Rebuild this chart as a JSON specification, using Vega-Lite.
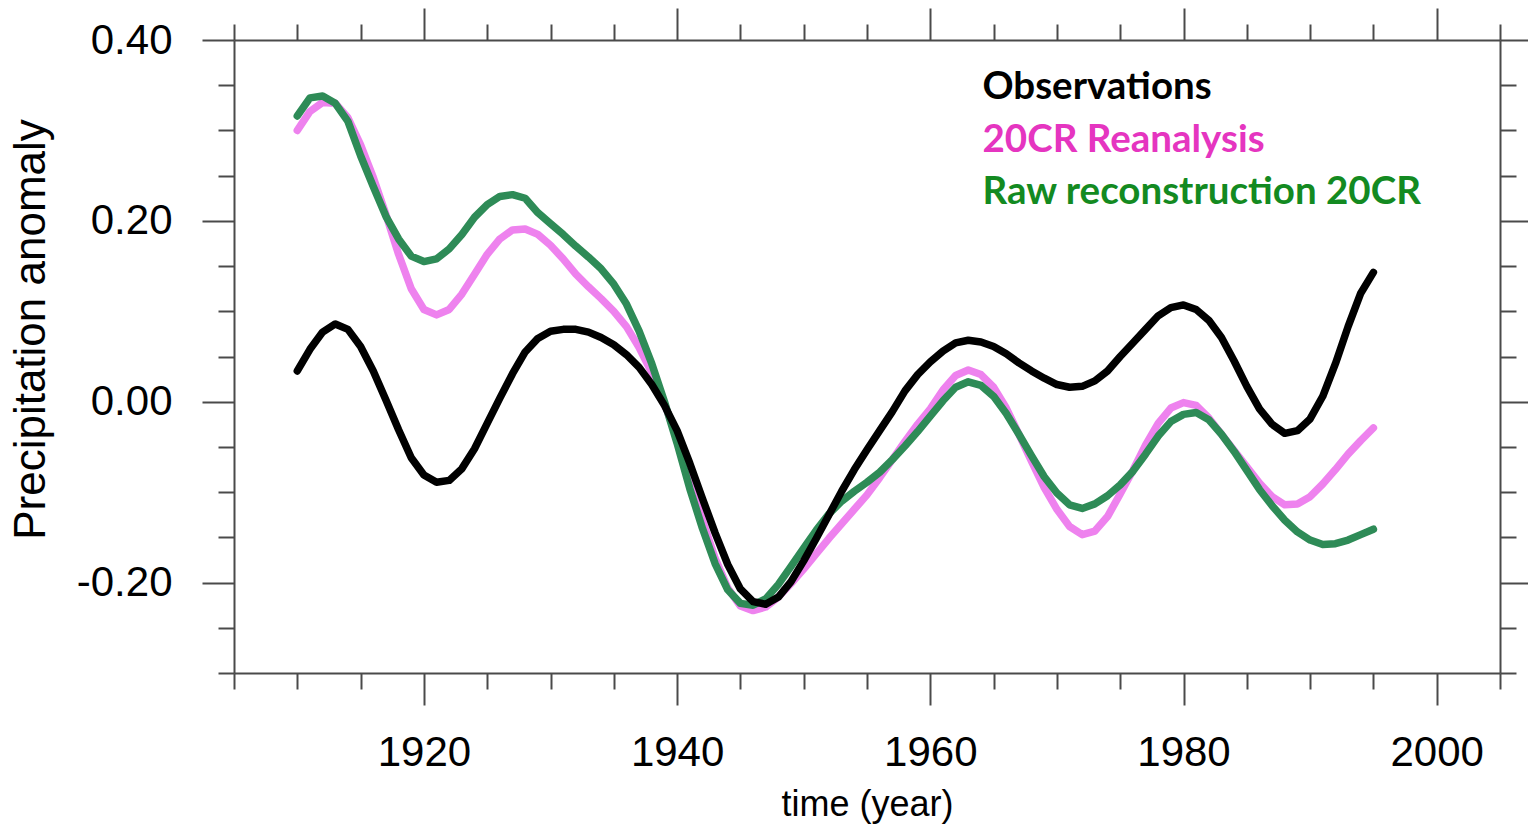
{
  "$schema": "https://vega.github.io/schema/vega-lite/v6.json",
  "width": 1266,
  "height": 633,
  "autosize": {"type": "none"},
  "padding": {"left": 234, "top": 40, "right": 28, "bottom": 155},
  "background": "white",
  "config": {
    "view": {"stroke": null},
    "axis": {
      "domainColor": "#4a4a4a",
      "domainWidth": 2,
      "tickColor": "#4a4a4a",
      "tickWidth": 2,
      "grid": false,
      "labelFont": "Liberation Sans",
      "titleFont": "Liberation Sans",
      "labelColor": "#000000",
      "titleColor": "#000000",
      "titleFontWeight": "normal"
    }
  },
  "data": {
    "values": [
      {"series": "20CR Reanalysis", "year": 1910, "value": 0.300},
      {"series": "20CR Reanalysis", "year": 1911, "value": 0.321},
      {"series": "20CR Reanalysis", "year": 1912, "value": 0.331},
      {"series": "20CR Reanalysis", "year": 1913, "value": 0.330},
      {"series": "20CR Reanalysis", "year": 1914, "value": 0.314},
      {"series": "20CR Reanalysis", "year": 1915, "value": 0.284},
      {"series": "20CR Reanalysis", "year": 1916, "value": 0.248},
      {"series": "20CR Reanalysis", "year": 1917, "value": 0.207},
      {"series": "20CR Reanalysis", "year": 1918, "value": 0.163},
      {"series": "20CR Reanalysis", "year": 1919, "value": 0.125},
      {"series": "20CR Reanalysis", "year": 1920, "value": 0.102},
      {"series": "20CR Reanalysis", "year": 1921, "value": 0.096},
      {"series": "20CR Reanalysis", "year": 1922, "value": 0.102},
      {"series": "20CR Reanalysis", "year": 1923, "value": 0.119},
      {"series": "20CR Reanalysis", "year": 1924, "value": 0.141},
      {"series": "20CR Reanalysis", "year": 1925, "value": 0.163},
      {"series": "20CR Reanalysis", "year": 1926, "value": 0.180},
      {"series": "20CR Reanalysis", "year": 1927, "value": 0.190},
      {"series": "20CR Reanalysis", "year": 1928, "value": 0.191},
      {"series": "20CR Reanalysis", "year": 1929, "value": 0.185},
      {"series": "20CR Reanalysis", "year": 1930, "value": 0.173},
      {"series": "20CR Reanalysis", "year": 1931, "value": 0.158},
      {"series": "20CR Reanalysis", "year": 1932, "value": 0.141},
      {"series": "20CR Reanalysis", "year": 1933, "value": 0.127},
      {"series": "20CR Reanalysis", "year": 1934, "value": 0.114},
      {"series": "20CR Reanalysis", "year": 1935, "value": 0.100},
      {"series": "20CR Reanalysis", "year": 1936, "value": 0.083},
      {"series": "20CR Reanalysis", "year": 1937, "value": 0.060},
      {"series": "20CR Reanalysis", "year": 1938, "value": 0.032},
      {"series": "20CR Reanalysis", "year": 1939, "value": -0.002},
      {"series": "20CR Reanalysis", "year": 1940, "value": -0.041},
      {"series": "20CR Reanalysis", "year": 1941, "value": -0.085},
      {"series": "20CR Reanalysis", "year": 1942, "value": -0.131},
      {"series": "20CR Reanalysis", "year": 1943, "value": -0.173},
      {"series": "20CR Reanalysis", "year": 1944, "value": -0.206},
      {"series": "20CR Reanalysis", "year": 1945, "value": -0.226},
      {"series": "20CR Reanalysis", "year": 1946, "value": -0.231},
      {"series": "20CR Reanalysis", "year": 1947, "value": -0.227},
      {"series": "20CR Reanalysis", "year": 1948, "value": -0.216},
      {"series": "20CR Reanalysis", "year": 1949, "value": -0.201},
      {"series": "20CR Reanalysis", "year": 1950, "value": -0.185},
      {"series": "20CR Reanalysis", "year": 1951, "value": -0.168},
      {"series": "20CR Reanalysis", "year": 1952, "value": -0.151},
      {"series": "20CR Reanalysis", "year": 1953, "value": -0.135},
      {"series": "20CR Reanalysis", "year": 1954, "value": -0.119},
      {"series": "20CR Reanalysis", "year": 1955, "value": -0.103},
      {"series": "20CR Reanalysis", "year": 1956, "value": -0.084},
      {"series": "20CR Reanalysis", "year": 1957, "value": -0.064},
      {"series": "20CR Reanalysis", "year": 1958, "value": -0.044},
      {"series": "20CR Reanalysis", "year": 1959, "value": -0.025},
      {"series": "20CR Reanalysis", "year": 1960, "value": -0.008},
      {"series": "20CR Reanalysis", "year": 1961, "value": 0.013},
      {"series": "20CR Reanalysis", "year": 1962, "value": 0.029},
      {"series": "20CR Reanalysis", "year": 1963, "value": 0.035},
      {"series": "20CR Reanalysis", "year": 1964, "value": 0.030},
      {"series": "20CR Reanalysis", "year": 1965, "value": 0.016},
      {"series": "20CR Reanalysis", "year": 1966, "value": -0.007},
      {"series": "20CR Reanalysis", "year": 1967, "value": -0.036},
      {"series": "20CR Reanalysis", "year": 1968, "value": -0.066},
      {"series": "20CR Reanalysis", "year": 1969, "value": -0.095},
      {"series": "20CR Reanalysis", "year": 1970, "value": -0.119},
      {"series": "20CR Reanalysis", "year": 1971, "value": -0.138},
      {"series": "20CR Reanalysis", "year": 1972, "value": -0.147},
      {"series": "20CR Reanalysis", "year": 1973, "value": -0.143},
      {"series": "20CR Reanalysis", "year": 1974, "value": -0.127},
      {"series": "20CR Reanalysis", "year": 1975, "value": -0.102},
      {"series": "20CR Reanalysis", "year": 1976, "value": -0.076},
      {"series": "20CR Reanalysis", "year": 1977, "value": -0.048},
      {"series": "20CR Reanalysis", "year": 1978, "value": -0.024},
      {"series": "20CR Reanalysis", "year": 1979, "value": -0.007},
      {"series": "20CR Reanalysis", "year": 1980, "value": -0.001},
      {"series": "20CR Reanalysis", "year": 1981, "value": -0.004},
      {"series": "20CR Reanalysis", "year": 1982, "value": -0.018},
      {"series": "20CR Reanalysis", "year": 1983, "value": -0.036},
      {"series": "20CR Reanalysis", "year": 1984, "value": -0.054},
      {"series": "20CR Reanalysis", "year": 1985, "value": -0.072},
      {"series": "20CR Reanalysis", "year": 1986, "value": -0.090},
      {"series": "20CR Reanalysis", "year": 1987, "value": -0.105},
      {"series": "20CR Reanalysis", "year": 1988, "value": -0.114},
      {"series": "20CR Reanalysis", "year": 1989, "value": -0.113},
      {"series": "20CR Reanalysis", "year": 1990, "value": -0.105},
      {"series": "20CR Reanalysis", "year": 1991, "value": -0.091},
      {"series": "20CR Reanalysis", "year": 1992, "value": -0.075},
      {"series": "20CR Reanalysis", "year": 1993, "value": -0.058},
      {"series": "20CR Reanalysis", "year": 1994, "value": -0.043},
      {"series": "20CR Reanalysis", "year": 1995, "value": -0.029},

      {"series": "Raw reconstruction 20CR", "year": 1910, "value": 0.316},
      {"series": "Raw reconstruction 20CR", "year": 1911, "value": 0.336},
      {"series": "Raw reconstruction 20CR", "year": 1912, "value": 0.338},
      {"series": "Raw reconstruction 20CR", "year": 1913, "value": 0.330},
      {"series": "Raw reconstruction 20CR", "year": 1914, "value": 0.310},
      {"series": "Raw reconstruction 20CR", "year": 1915, "value": 0.272},
      {"series": "Raw reconstruction 20CR", "year": 1916, "value": 0.238},
      {"series": "Raw reconstruction 20CR", "year": 1917, "value": 0.205},
      {"series": "Raw reconstruction 20CR", "year": 1918, "value": 0.180},
      {"series": "Raw reconstruction 20CR", "year": 1919, "value": 0.161},
      {"series": "Raw reconstruction 20CR", "year": 1920, "value": 0.155},
      {"series": "Raw reconstruction 20CR", "year": 1921, "value": 0.158},
      {"series": "Raw reconstruction 20CR", "year": 1922, "value": 0.169},
      {"series": "Raw reconstruction 20CR", "year": 1923, "value": 0.185},
      {"series": "Raw reconstruction 20CR", "year": 1924, "value": 0.204},
      {"series": "Raw reconstruction 20CR", "year": 1925, "value": 0.218},
      {"series": "Raw reconstruction 20CR", "year": 1926, "value": 0.227},
      {"series": "Raw reconstruction 20CR", "year": 1927, "value": 0.229},
      {"series": "Raw reconstruction 20CR", "year": 1928, "value": 0.225},
      {"series": "Raw reconstruction 20CR", "year": 1929, "value": 0.209},
      {"series": "Raw reconstruction 20CR", "year": 1930, "value": 0.197},
      {"series": "Raw reconstruction 20CR", "year": 1931, "value": 0.185},
      {"series": "Raw reconstruction 20CR", "year": 1932, "value": 0.172},
      {"series": "Raw reconstruction 20CR", "year": 1933, "value": 0.160},
      {"series": "Raw reconstruction 20CR", "year": 1934, "value": 0.147},
      {"series": "Raw reconstruction 20CR", "year": 1935, "value": 0.130},
      {"series": "Raw reconstruction 20CR", "year": 1936, "value": 0.108},
      {"series": "Raw reconstruction 20CR", "year": 1937, "value": 0.078},
      {"series": "Raw reconstruction 20CR", "year": 1938, "value": 0.042},
      {"series": "Raw reconstruction 20CR", "year": 1939, "value": 0.000},
      {"series": "Raw reconstruction 20CR", "year": 1940, "value": -0.046},
      {"series": "Raw reconstruction 20CR", "year": 1941, "value": -0.096},
      {"series": "Raw reconstruction 20CR", "year": 1942, "value": -0.140},
      {"series": "Raw reconstruction 20CR", "year": 1943, "value": -0.179},
      {"series": "Raw reconstruction 20CR", "year": 1944, "value": -0.208},
      {"series": "Raw reconstruction 20CR", "year": 1945, "value": -0.223},
      {"series": "Raw reconstruction 20CR", "year": 1946, "value": -0.225},
      {"series": "Raw reconstruction 20CR", "year": 1947, "value": -0.218},
      {"series": "Raw reconstruction 20CR", "year": 1948, "value": -0.202},
      {"series": "Raw reconstruction 20CR", "year": 1949, "value": -0.182},
      {"series": "Raw reconstruction 20CR", "year": 1950, "value": -0.162},
      {"series": "Raw reconstruction 20CR", "year": 1951, "value": -0.142},
      {"series": "Raw reconstruction 20CR", "year": 1952, "value": -0.124},
      {"series": "Raw reconstruction 20CR", "year": 1953, "value": -0.110},
      {"series": "Raw reconstruction 20CR", "year": 1954, "value": -0.099},
      {"series": "Raw reconstruction 20CR", "year": 1955, "value": -0.089},
      {"series": "Raw reconstruction 20CR", "year": 1956, "value": -0.078},
      {"series": "Raw reconstruction 20CR", "year": 1957, "value": -0.064},
      {"series": "Raw reconstruction 20CR", "year": 1958, "value": -0.049},
      {"series": "Raw reconstruction 20CR", "year": 1959, "value": -0.033},
      {"series": "Raw reconstruction 20CR", "year": 1960, "value": -0.016},
      {"series": "Raw reconstruction 20CR", "year": 1961, "value": 0.001},
      {"series": "Raw reconstruction 20CR", "year": 1962, "value": 0.016},
      {"series": "Raw reconstruction 20CR", "year": 1963, "value": 0.022},
      {"series": "Raw reconstruction 20CR", "year": 1964, "value": 0.018},
      {"series": "Raw reconstruction 20CR", "year": 1965, "value": 0.006},
      {"series": "Raw reconstruction 20CR", "year": 1966, "value": -0.013},
      {"series": "Raw reconstruction 20CR", "year": 1967, "value": -0.036},
      {"series": "Raw reconstruction 20CR", "year": 1968, "value": -0.060},
      {"series": "Raw reconstruction 20CR", "year": 1969, "value": -0.083},
      {"series": "Raw reconstruction 20CR", "year": 1970, "value": -0.101},
      {"series": "Raw reconstruction 20CR", "year": 1971, "value": -0.114},
      {"series": "Raw reconstruction 20CR", "year": 1972, "value": -0.118},
      {"series": "Raw reconstruction 20CR", "year": 1973, "value": -0.113},
      {"series": "Raw reconstruction 20CR", "year": 1974, "value": -0.104},
      {"series": "Raw reconstruction 20CR", "year": 1975, "value": -0.092},
      {"series": "Raw reconstruction 20CR", "year": 1976, "value": -0.077},
      {"series": "Raw reconstruction 20CR", "year": 1977, "value": -0.058},
      {"series": "Raw reconstruction 20CR", "year": 1978, "value": -0.038},
      {"series": "Raw reconstruction 20CR", "year": 1979, "value": -0.022},
      {"series": "Raw reconstruction 20CR", "year": 1980, "value": -0.014},
      {"series": "Raw reconstruction 20CR", "year": 1981, "value": -0.012},
      {"series": "Raw reconstruction 20CR", "year": 1982, "value": -0.020},
      {"series": "Raw reconstruction 20CR", "year": 1983, "value": -0.036},
      {"series": "Raw reconstruction 20CR", "year": 1984, "value": -0.055},
      {"series": "Raw reconstruction 20CR", "year": 1985, "value": -0.076},
      {"series": "Raw reconstruction 20CR", "year": 1986, "value": -0.097},
      {"series": "Raw reconstruction 20CR", "year": 1987, "value": -0.115},
      {"series": "Raw reconstruction 20CR", "year": 1988, "value": -0.131},
      {"series": "Raw reconstruction 20CR", "year": 1989, "value": -0.144},
      {"series": "Raw reconstruction 20CR", "year": 1990, "value": -0.153},
      {"series": "Raw reconstruction 20CR", "year": 1991, "value": -0.158},
      {"series": "Raw reconstruction 20CR", "year": 1992, "value": -0.157},
      {"series": "Raw reconstruction 20CR", "year": 1993, "value": -0.153},
      {"series": "Raw reconstruction 20CR", "year": 1994, "value": -0.147},
      {"series": "Raw reconstruction 20CR", "year": 1995, "value": -0.141},

      {"series": "Observations", "year": 1910, "value": 0.034},
      {"series": "Observations", "year": 1911, "value": 0.058},
      {"series": "Observations", "year": 1912, "value": 0.077},
      {"series": "Observations", "year": 1913, "value": 0.086},
      {"series": "Observations", "year": 1914, "value": 0.080},
      {"series": "Observations", "year": 1915, "value": 0.061},
      {"series": "Observations", "year": 1916, "value": 0.034},
      {"series": "Observations", "year": 1917, "value": 0.002},
      {"series": "Observations", "year": 1918, "value": -0.031},
      {"series": "Observations", "year": 1919, "value": -0.062},
      {"series": "Observations", "year": 1920, "value": -0.081},
      {"series": "Observations", "year": 1921, "value": -0.089},
      {"series": "Observations", "year": 1922, "value": -0.087},
      {"series": "Observations", "year": 1923, "value": -0.074},
      {"series": "Observations", "year": 1924, "value": -0.052},
      {"series": "Observations", "year": 1925, "value": -0.024},
      {"series": "Observations", "year": 1926, "value": 0.004},
      {"series": "Observations", "year": 1927, "value": 0.031},
      {"series": "Observations", "year": 1928, "value": 0.055},
      {"series": "Observations", "year": 1929, "value": 0.070},
      {"series": "Observations", "year": 1930, "value": 0.078},
      {"series": "Observations", "year": 1931, "value": 0.080},
      {"series": "Observations", "year": 1932, "value": 0.080},
      {"series": "Observations", "year": 1933, "value": 0.077},
      {"series": "Observations", "year": 1934, "value": 0.071},
      {"series": "Observations", "year": 1935, "value": 0.063},
      {"series": "Observations", "year": 1936, "value": 0.052},
      {"series": "Observations", "year": 1937, "value": 0.038},
      {"series": "Observations", "year": 1938, "value": 0.019},
      {"series": "Observations", "year": 1939, "value": -0.004},
      {"series": "Observations", "year": 1940, "value": -0.032},
      {"series": "Observations", "year": 1941, "value": -0.068},
      {"series": "Observations", "year": 1942, "value": -0.107},
      {"series": "Observations", "year": 1943, "value": -0.145},
      {"series": "Observations", "year": 1944, "value": -0.180},
      {"series": "Observations", "year": 1945, "value": -0.207},
      {"series": "Observations", "year": 1946, "value": -0.221},
      {"series": "Observations", "year": 1947, "value": -0.224},
      {"series": "Observations", "year": 1948, "value": -0.216},
      {"series": "Observations", "year": 1949, "value": -0.199},
      {"series": "Observations", "year": 1950, "value": -0.176},
      {"series": "Observations", "year": 1951, "value": -0.151},
      {"series": "Observations", "year": 1952, "value": -0.125},
      {"series": "Observations", "year": 1953, "value": -0.099},
      {"series": "Observations", "year": 1954, "value": -0.075},
      {"series": "Observations", "year": 1955, "value": -0.053},
      {"series": "Observations", "year": 1956, "value": -0.032},
      {"series": "Observations", "year": 1957, "value": -0.011},
      {"series": "Observations", "year": 1958, "value": 0.012},
      {"series": "Observations", "year": 1959, "value": 0.030},
      {"series": "Observations", "year": 1960, "value": 0.044},
      {"series": "Observations", "year": 1961, "value": 0.056},
      {"series": "Observations", "year": 1962, "value": 0.065},
      {"series": "Observations", "year": 1963, "value": 0.068},
      {"series": "Observations", "year": 1964, "value": 0.066},
      {"series": "Observations", "year": 1965, "value": 0.061},
      {"series": "Observations", "year": 1966, "value": 0.053},
      {"series": "Observations", "year": 1967, "value": 0.043},
      {"series": "Observations", "year": 1968, "value": 0.034},
      {"series": "Observations", "year": 1969, "value": 0.026},
      {"series": "Observations", "year": 1970, "value": 0.019},
      {"series": "Observations", "year": 1971, "value": 0.016},
      {"series": "Observations", "year": 1972, "value": 0.017},
      {"series": "Observations", "year": 1973, "value": 0.023},
      {"series": "Observations", "year": 1974, "value": 0.034},
      {"series": "Observations", "year": 1975, "value": 0.050},
      {"series": "Observations", "year": 1976, "value": 0.065},
      {"series": "Observations", "year": 1977, "value": 0.080},
      {"series": "Observations", "year": 1978, "value": 0.095},
      {"series": "Observations", "year": 1979, "value": 0.104},
      {"series": "Observations", "year": 1980, "value": 0.107},
      {"series": "Observations", "year": 1981, "value": 0.102},
      {"series": "Observations", "year": 1982, "value": 0.090},
      {"series": "Observations", "year": 1983, "value": 0.071},
      {"series": "Observations", "year": 1984, "value": 0.045},
      {"series": "Observations", "year": 1985, "value": 0.017},
      {"series": "Observations", "year": 1986, "value": -0.008},
      {"series": "Observations", "year": 1987, "value": -0.025},
      {"series": "Observations", "year": 1988, "value": -0.035},
      {"series": "Observations", "year": 1989, "value": -0.032},
      {"series": "Observations", "year": 1990, "value": -0.019},
      {"series": "Observations", "year": 1991, "value": 0.006},
      {"series": "Observations", "year": 1992, "value": 0.042},
      {"series": "Observations", "year": 1993, "value": 0.083},
      {"series": "Observations", "year": 1994, "value": 0.120},
      {"series": "Observations", "year": 1995, "value": 0.143}
    ]
  },
  "encoding": {
    "color": {
      "field": "series",
      "type": "nominal",
      "scale": {
        "domain": ["Observations", "20CR Reanalysis", "Raw reconstruction 20CR"],
        "range": ["#000000", "#ee82ee", "#2e8b57"]
      },
      "legend": {
        "title": null,
        "orient": "none",
        "legendX": 710,
        "legendY": 28,
        "direction": "vertical",
        "padding": 0,
        "symbolOpacity": 0,
        "symbolSize": 0,
        "symbolStrokeWidth": 0,
        "labelOffset": 0,
        "labelFont": "Lato",
        "labelFontSize": 38.5,
        "labelFontWeight": "bold",
        "labelLimit": 1000,
        "rowPadding": 13.5,
        "encode": {
          "labels": {
            "update": {
              "fill": {"signal": "datum.value === 'Observations' ? '#000000' : (datum.value === '20CR Reanalysis' ? '#e535c0' : '#138a21')"}
            }
          }
        }
      }
    }
  },
  "layer": [
    {
      "transform": [{"filter": "datum.series !== 'Observations'"}],
      "mark": {"type": "line", "strokeWidth": 7.5, "strokeCap": "round", "strokeJoin": "round"},
      "encoding": {
        "x": {
          "field": "year",
          "type": "quantitative",
          "scale": {"domain": [1905, 2005], "nice": false, "zero": false},
          "axis": {
            "orient": "bottom",
            "values": [1905, 1910, 1915, 1920, 1925, 1930, 1935, 1940, 1945, 1950, 1955, 1960, 1965, 1970, 1975, 1980, 1985, 1990, 1995, 2000, 2005],
            "tickSize": {"condition": {"test": "datum.value % 20 == 0", "value": 32}, "value": 16},
            "labelExpr": "datum.value % 20 == 0 ? format(datum.value, 'd') : ''",
            "labelFontSize": 42,
            "labelPadding": 27,
            "labelOverlap": false,
            "labelFlush": false,
            "labelBound": false,
            "title": "time (year)",
            "titleFontSize": 36,
            "titleBaseline": "alphabetic",
            "titleY": 142
          }
        },
        "y": {
          "field": "value",
          "type": "quantitative",
          "scale": {"domain": [-0.3, 0.4], "nice": false, "zero": false},
          "axis": {
            "orient": "left",
            "values": [-0.3, -0.25, -0.2, -0.15, -0.1, -0.05, 0, 0.05, 0.1, 0.15, 0.2, 0.25, 0.3, 0.35, 0.4],
            "tickSize": {"condition": {"test": "abs(round(datum.value * 100)) % 20 == 0", "value": 32}, "value": 16},
            "labelExpr": "abs(round(datum.value * 100)) % 20 == 0 ? (datum.value < 0 ? '-' + format(-datum.value, '.2f') : format(datum.value, '.2f')) : ''",
            "labelFontSize": 42,
            "labelPadding": 30,
            "labelOverlap": false,
            "labelFlush": false,
            "labelBound": false,
            "title": "Precipitation anomaly",
            "titleFontSize": 44,
            "titleAngle": 270,
            "titleAlign": "center",
            "titleBaseline": "alphabetic",
            "titleX": -190,
            "titleY": 289
          }
        }
      }
    },
    {
      "transform": [{"filter": "datum.series === 'Observations'"}],
      "mark": {"type": "line", "strokeWidth": 7.5, "strokeCap": "round", "strokeJoin": "round"},
      "encoding": {
        "x": {
          "field": "year",
          "type": "quantitative",
          "axis": {
            "orient": "top",
            "values": [1905, 1910, 1915, 1920, 1925, 1930, 1935, 1940, 1945, 1950, 1955, 1960, 1965, 1970, 1975, 1980, 1985, 1990, 1995, 2000, 2005],
            "tickSize": {"condition": {"test": "datum.value % 20 == 0", "value": 32}, "value": 16},
            "labels": false,
            "title": null
          }
        },
        "y": {
          "field": "value",
          "type": "quantitative",
          "axis": {
            "orient": "right",
            "values": [-0.3, -0.25, -0.2, -0.15, -0.1, -0.05, 0, 0.05, 0.1, 0.15, 0.2, 0.25, 0.3, 0.35, 0.4],
            "tickSize": {"condition": {"test": "abs(round(datum.value * 100)) % 20 == 0", "value": 32}, "value": 16},
            "labels": false,
            "title": null
          }
        }
      }
    }
  ],
  "resolve": {"axis": {"x": "independent", "y": "independent"}}
}
